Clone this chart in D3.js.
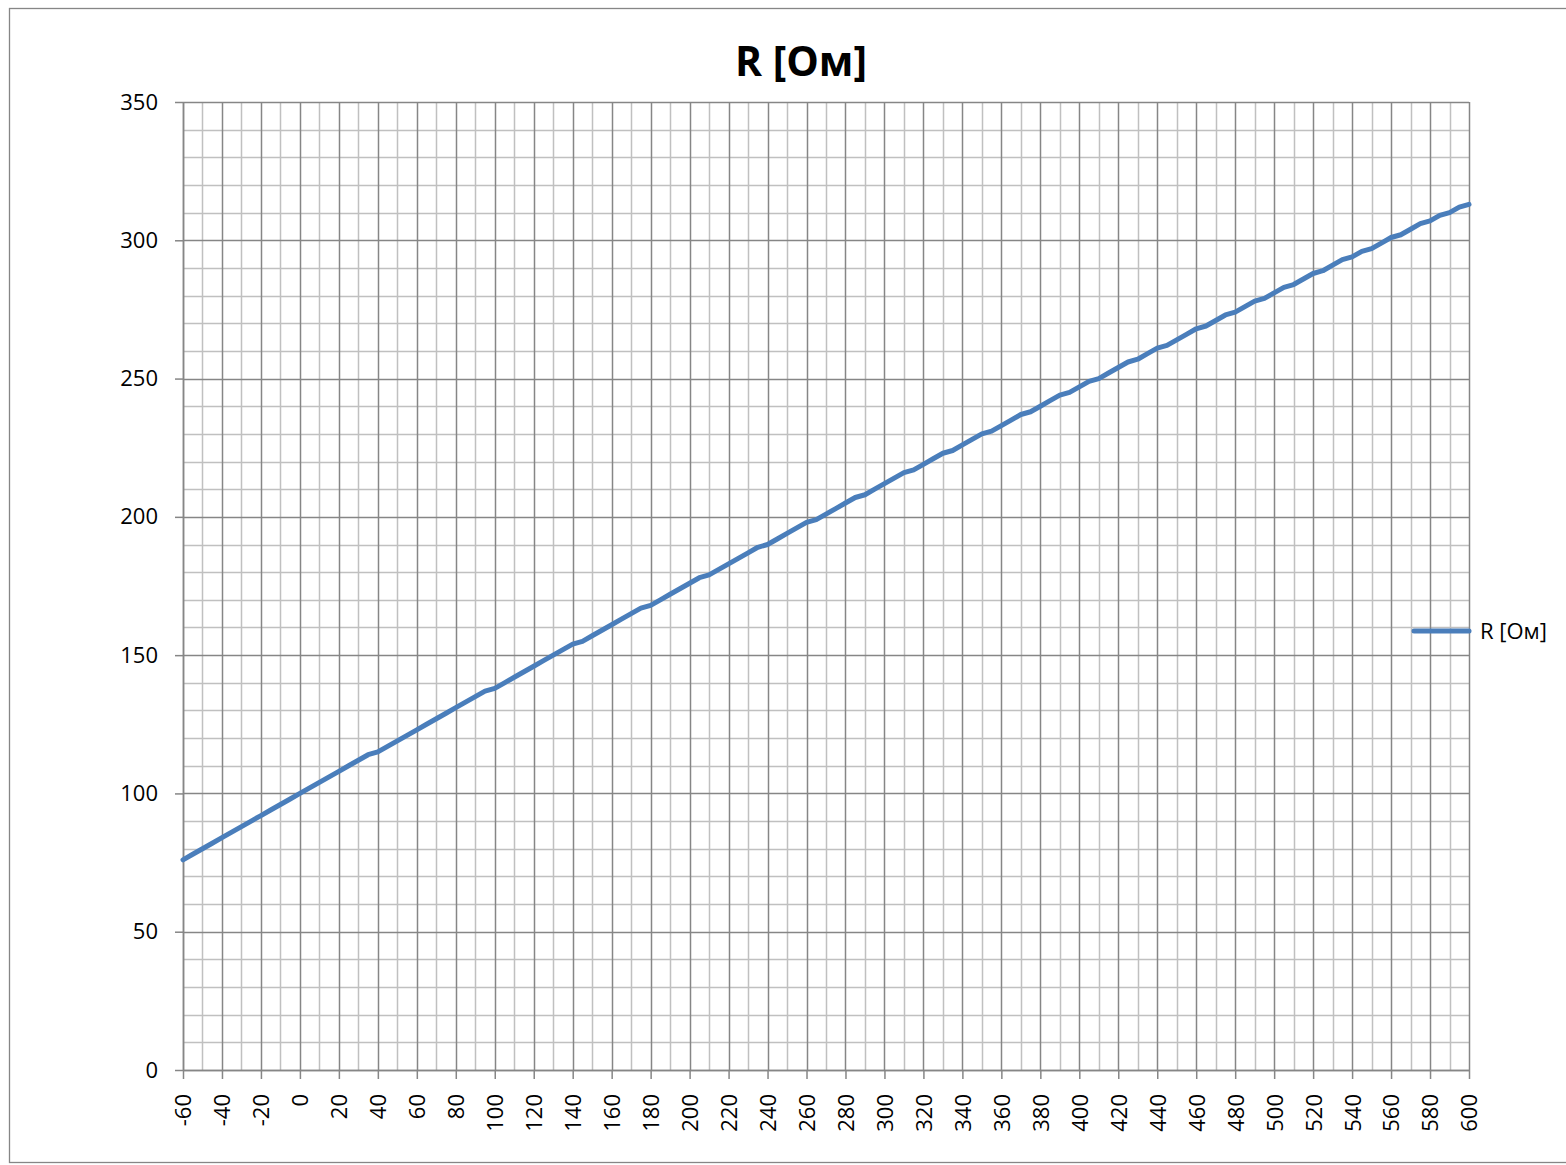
<!DOCTYPE html>
<html lang="ru">
<head>
<meta charset="UTF-8">
<title>R [Ом]</title>
<script src="https://d3js.org/d3.v7.min.js"></script>
<style>
  body { margin: 0; background: #fff; }
  text { font-family: "Open Sans", "DejaVu Sans", sans-serif; fill: #000; }
</style>
</head>
<body>
<div id="chart"></div>
<script>
// temperature, degC (categories)
var temps = [-60,-55,-50,-45,-40,-35,-30,-25,-20,-15,-10,-5,
  0,5,10,15,20,25,30,35,40,45,50,55,60,65,70,75,80,85,90,95,
  100,105,110,115,120,125,130,135,140,145,150,155,160,165,170,175,180,185,190,195,
  200,205,210,215,220,225,230,235,240,245,250,255,260,265,270,275,280,285,290,295,
  300,305,310,315,320,325,330,335,340,345,350,355,360,365,370,375,380,385,390,395,
  400,405,410,415,420,425,430,435,440,445,450,455,460,465,470,475,480,485,490,495,
  500,505,510,515,520,525,530,535,540,545,550,555,560,565,570,575,580,585,590,595,600];

// resistance, Ohm
var resist = [76,78,80,82,84,86,88,90,92,94,96,98,
  100,102,104,106,108,110,112,114,115,117,119,121,123,125,127,129,131,133,135,137,
  138,140,142,144,146,148,150,152,154,155,157,159,161,163,165,167,168,170,172,174,
  176,178,179,181,183,185,187,189,190,192,194,196,198,199,201,203,205,207,208,210,
  212,214,216,217,219,221,223,224,226,228,230,231,233,235,237,238,240,242,244,245,
  247,249,250,252,254,256,257,259,261,262,264,266,268,269,271,273,274,276,278,279,
  281,283,284,286,288,289,291,293,294,296,297,299,301,302,304,306,307,309,310,312,313];

var xLabels = [-60,-40,-20,0,20,40,60,80,100,120,140,160,180,200,220,240,260,280,300,
  320,340,360,380,400,420,440,460,480,500,520,540,560,580,600];
var yLabels = [0,50,100,150,200,250,300,350];
var xMinor = d3.range(-50, 600, 20);
var yMinor = d3.range(10, 350, 10).filter(function(v){ return v % 50 != 0 });

var seriesName = "R [Ом]";

var W = 1566, H = 1165;
var margin = {left: 183, right: 97, top: 102, bottom: 95};

var svg = d3.select("#chart").append("svg")
  .attr("width", W).attr("height", H);

// chart border
svg.append("rect")
  .attr("x", 9.5).attr("y", 8.5)
  .attr("width", 1562).attr("height", 1154)
  .attr("fill", "#fff").attr("stroke", "#868686").attr("stroke-width", 1.3);

var x = d3.scaleLinear().domain([-60, 600]).range([margin.left, W - margin.right]);
var y = d3.scaleLinear().domain([0, 350]).range([H - margin.bottom, margin.top]);

var light = "#c0c0c0", dark = "#868686";

// minor gridlines
svg.append("g").selectAll("line").data(xMinor).enter().append("line")
  .attr("x1", function(d){ return Math.round(x(d)) + 0.5 })
  .attr("x2", function(d){ return Math.round(x(d)) + 0.5 })
  .attr("y1", y(0)).attr("y2", y(350))
  .attr("stroke", light).attr("stroke-width", 1.5);
svg.append("g").selectAll("line").data(yMinor).enter().append("line")
  .attr("y1", function(d){ return Math.round(y(d)) + 0.5 })
  .attr("y2", function(d){ return Math.round(y(d)) + 0.5 })
  .attr("x1", x(-60)).attr("x2", x(600))
  .attr("stroke", light).attr("stroke-width", 1.5);

// major gridlines
svg.append("g").selectAll("line").data(xLabels).enter().append("line")
  .attr("x1", function(d){ return Math.round(x(d)) + 0.5 })
  .attr("x2", function(d){ return Math.round(x(d)) + 0.5 })
  .attr("y1", y(0)).attr("y2", y(350))
  .attr("stroke", dark).attr("stroke-width", 1.5);
svg.append("g").selectAll("line").data(yLabels).enter().append("line")
  .attr("y1", function(d){ return Math.round(y(d)) + 0.5 })
  .attr("y2", function(d){ return Math.round(y(d)) + 0.5 })
  .attr("x1", x(-60)).attr("x2", x(600))
  .attr("stroke", dark).attr("stroke-width", 1.5);

// axes (plain hyphen for negatives, like the original)
var fmt = function(d){ return String(d) };
var xAxis = d3.axisBottom(x).tickValues(xLabels).tickSize(9).tickSizeOuter(0).tickFormat(fmt);
var yAxis = d3.axisLeft(y).tickValues(yLabels).tickSize(8).tickSizeOuter(0).tickPadding(17).tickFormat(fmt);

var gx = svg.append("g").attr("transform", "translate(0," + y(0) + ")").call(xAxis);
gx.select(".domain").attr("stroke", dark).attr("stroke-width", 1.5);
gx.selectAll(".tick line").attr("stroke", dark).attr("stroke-width", 1.5);
gx.selectAll(".tick text")
  .attr("font-size", "22px")
  .attr("font-family", "Open Sans")
  .attr("text-anchor", "end")
  .attr("transform", "rotate(-90)")
  .attr("x", -24).attr("y", 0).attr("dy", "0.36em");

var gy = svg.append("g").attr("transform", "translate(" + x(-60) + ",0)").call(yAxis);
gy.select(".domain").attr("stroke", dark).attr("stroke-width", 1.5);
gy.selectAll(".tick line").attr("stroke", dark).attr("stroke-width", 1.5);
gy.selectAll(".tick text")
  .attr("font-size", "22px")
  .attr("font-family", "Open Sans");

// the line
var line = d3.line()
  .x(function(d, i){ return x(temps[i]) })
  .y(function(d){ return y(d) });

svg.append("path")
  .datum(resist)
  .attr("d", line)
  .attr("fill", "none")
  .attr("stroke", "#4a7ebb")
  .attr("stroke-width", 5)
  .attr("stroke-linejoin", "round")
  .attr("stroke-linecap", "round");

// title
svg.append("text")
  .attr("x", 801).attr("y", 76)
  .attr("text-anchor", "middle")
  .attr("font-size", "41px")
  .attr("font-weight", "bold")
  .text(seriesName);

// legend
var lg = svg.append("g").attr("transform", "translate(1414,631)");
lg.append("line")
  .attr("x1", 0).attr("x2", 55).attr("y1", 0).attr("y2", 0)
  .attr("stroke", "#4a7ebb").attr("stroke-width", 5).attr("stroke-linecap", "round");
lg.append("text")
  .attr("x", 66).attr("y", 0).attr("dy", "0.36em")
  .attr("font-size", "22px")
  .text(seriesName);
</script>
</body>
</html>
